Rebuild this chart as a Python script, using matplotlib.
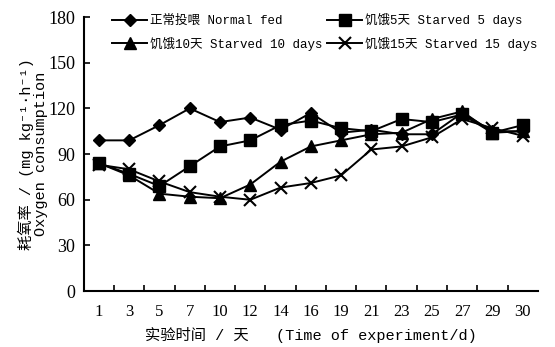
import matplotlib
matplotlib.use("Agg")
import matplotlib.pyplot as plt
import numpy as np

plt.rcParams['font.family'] = ['Liberation Serif', 'Noto Sans CJK SC', 'DejaVu Serif']
MONO = ["Liberation Mono", "Noto Sans CJK SC", "DejaVu Sans Mono"]

# Données
jours = ["1", "3", "5", "7", "10", "12", "14", "16", "19", "21", "23", "25", "27", "29", "30"]
normal_fed = [99, 99, 109, 120, 111, 114, 106, 117, 104, 106, 103, 103, 117, 105, 105]
starved_5 = [84, 77, 69, 82, 95, 99, 109, 112, 107, 105, 113, 111, 116, 104, 109]
starved_10 = [84, 76, 64, 62, 61, 70, 85, 95, 99, 103, 104, 113, 118, 104, 105]
starved_15 = [83, 80, 72, 65, 62, 60, 68, 71, 76, 93, 95, 101, 113, 107, 102]

labels = ["正常投喂 Normal fed", "饥饿5天 Starved 5 days",
          "饥饿10天 Starved 10 days", "饥饿15天 Starved 15 days"]

fig = plt.figure(figsize=(5.55, 3.47), dpi=100)
ax = fig.add_axes([0.151, 0.161, 0.818, 0.79])

x = np.arange(len(jours))
style = dict(color="black", lw=1.4)
l0, = ax.plot(x, normal_fed, marker="D", ms=6, label=labels[0], **style)
l1, = ax.plot(x, starved_5, marker="s", ms=8, label=labels[1], **style)
l2, = ax.plot(x, starved_10, marker="^", ms=8, label=labels[2], **style)
l3, = ax.plot(x, starved_15, marker="x", ms=9, mew=1.5, label=labels[3], **style)

ax.set_xlim(-0.5, len(jours) - 0.5)
ax.set_ylim(0, 180)
ax.set_yticks(range(0, 181, 30))
ax.set_xticks(x)
ax.set_xticklabels(jours)
ax.set_xticks(np.arange(0.5, len(jours) - 0.5, 1), minor=True)
ax.tick_params(axis="x", which="major", length=0, labelsize=12, pad=9)
ax.tick_params(axis="x", which="minor", direction="in", length=4, width=1.2)
ax.tick_params(axis="y", direction="in", length=4, width=1.2, labelsize=13, pad=6)
ax.spines["top"].set_visible(False)
ax.spines["right"].set_visible(False)
ax.spines["left"].set_linewidth(1.5)
ax.spines["bottom"].set_linewidth(1.5)

ax.set_xlabel("实验时间 / 天   (Time of experiment/d)", fontsize=11, family=MONO, labelpad=5)
ax.set_ylabel("耗氧率 / (mg kg⁻¹·h⁻¹)\nOxygen consumption", fontsize=11, family=MONO,
              linespacing=1.0, labelpad=0)

# ordre : ligne 1 = normal / 5 jours, ligne 2 = 10 / 15 jours
leg = ax.legend([l0, l2, l1, l3], [labels[0], labels[2], labels[1], labels[3]],
                loc="upper left", bbox_to_anchor=(106 / 555, 1 - 7 / 347),
                bbox_transform=fig.transFigure, ncol=2, frameon=False, borderpad=0,
                handlelength=2.8, handletextpad=0.2, columnspacing=0.4,
                labelspacing=0.75, prop={"family": MONO, "size": 9})

fig.savefig("out.png", dpi=100)
